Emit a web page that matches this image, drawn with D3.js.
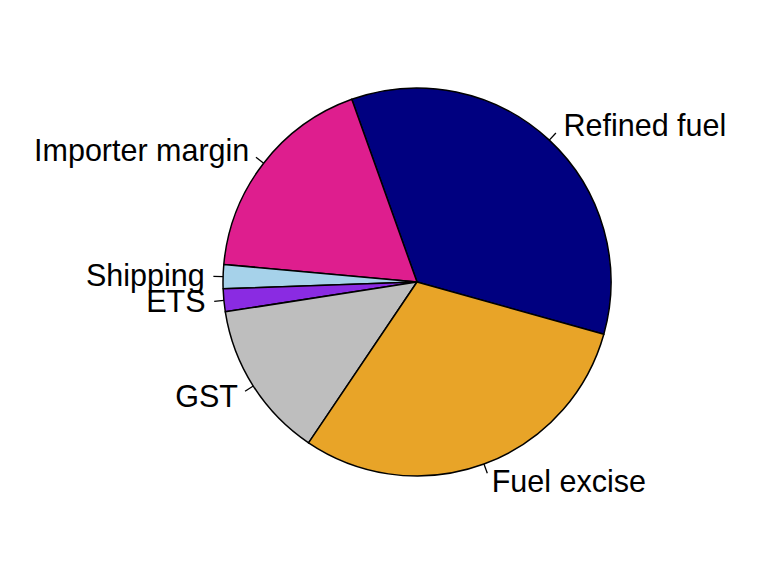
<!DOCTYPE html>
<html>
<head>
<meta charset="utf-8">
<script src="https://cdn.jsdelivr.net/npm/d3@7"></script>
<style>
html,body{margin:0;padding:0;background:#fff;}
svg text{font-family:"Liberation Sans",Arial,Helvetica,sans-serif;}
</style>
</head>
<body>
<svg id="chart" width="768" height="569"></svg>
<script>
const categories = ["Refined fuel", "Importer margin", "Shipping", "ETS", "GST", "Fuel excise"];
const values = [34.8, 18.1, 2.0, 1.9, 13.1, 30.1];
const colors = ["#000080", "#DE1E8E", "#A6D2EA", "#8A2BE2", "#BEBEBE", "#E8A428"];

const W = 768, H = 569;
const cx = 417, cy = 282, r = 194;
const fontSize = 30.5;
// start angle: R-like counterclockwise layout starting just below 3 o'clock
const startMath = -15.63; // degrees, counterclockwise from 3 o'clock
const startD3 = (90 - startMath) * Math.PI / 180;

const svg = d3.select("#chart");
const g = svg.append("g").attr("transform", `translate(${cx},${cy})`);

const data = categories.map((c, i) => ({ label: c, value: values[i], color: colors[i] }));
const pie = d3.pie().sort(null).value(d => d.value)
  .startAngle(startD3).endAngle(startD3 - 2 * Math.PI);
const arcs = pie(data);
const arc = d3.arc().innerRadius(0).outerRadius(r);

g.selectAll("path.slice").data(arcs).enter().append("path")
  .attr("class", "slice")
  .attr("d", arc)
  .attr("fill", d => d.data.color)
  .attr("stroke", "#000")
  .attr("stroke-width", 1.5)
  .attr("stroke-linejoin", "round");

arcs.forEach(d => {
  const mid = (d.startAngle + d.endAngle) / 2;
  const sx = Math.sin(mid), sy = -Math.cos(mid);
  g.append("line")
    .attr("x1", r * sx).attr("y1", r * sy)
    .attr("x2", 1.05 * r * sx).attr("y2", 1.05 * r * sy)
    .attr("stroke", "#000").attr("stroke-width", 1.3);
  g.append("text")
    .attr("x", 1.1 * r * sx + (sx < 0 ? 1 : 1))
    .attr("y", 1.1 * r * sy + 0.33 * fontSize)
    .attr("text-anchor", sx < 0 ? "end" : "start")
    .attr("font-size", fontSize)
    .attr("fill", "#000")
    .text(d.data.label);
});
</script>
</body>
</html>
